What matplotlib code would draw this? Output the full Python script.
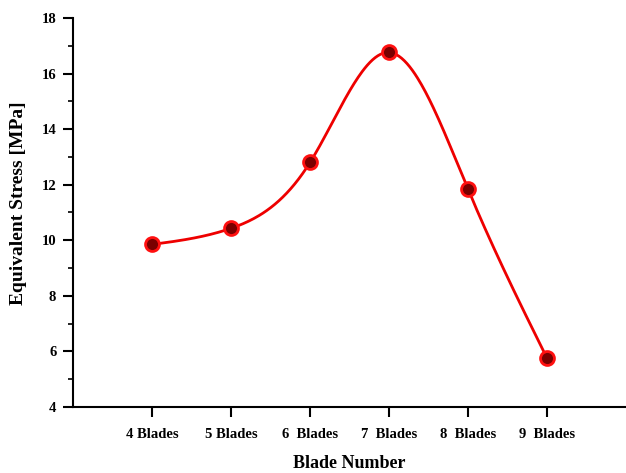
import numpy as np
import matplotlib
matplotlib.use("Agg")
import matplotlib.pyplot as plt
from matplotlib.ticker import MultipleLocator

# dữ liệu
blades = ["4 Blades", "5 Blades", "6  Blades", "7  Blades", "8  Blades", "9  Blades"]
stress = [9.85, 10.43, 12.80, 16.76, 11.84, 5.76]


def natural_spline(x, y, n=300):
    x = np.asarray(x, float)
    y = np.asarray(y, float)
    k = len(x)
    h = np.diff(x)
    A = np.zeros((k, k))
    b = np.zeros(k)
    A[0, 0] = A[-1, -1] = 1
    for i in range(1, k - 1):
        A[i, i - 1] = h[i - 1]
        A[i, i] = 2 * (h[i - 1] + h[i])
        A[i, i + 1] = h[i]
        b[i] = 3 * ((y[i + 1] - y[i]) / h[i] - (y[i] - y[i - 1]) / h[i - 1])
    c = np.linalg.solve(A, b)
    xs = np.linspace(x[0], x[-1], n)
    ys = np.empty_like(xs)
    for j, xv in enumerate(xs):
        i = min(np.searchsorted(x, xv, side="right") - 1, k - 2)
        dx = xv - x[i]
        bi = (y[i + 1] - y[i]) / h[i] - h[i] * (2 * c[i] + c[i + 1]) / 3
        di = (c[i + 1] - c[i]) / (3 * h[i])
        ys[j] = y[i] + bi * dx + c[i] * dx ** 2 + di * dx ** 3
    return xs, ys


plt.rcParams["font.family"] = ["Liberation Serif", "DejaVu Serif"]
plt.rcParams["font.weight"] = "bold"

fig = plt.figure(figsize=(6.26, 4.73), dpi=100)
ax = fig.add_axes([0.1166, 0.1395, 0.8834, 0.8225])

x = np.arange(len(blades))
xs, ys = natural_spline(x, stress)
ax.plot(xs, ys, color="#ee0000", lw=2, zorder=2)
ax.plot(x, stress, "o", ms=10, mfc="#7a0000", mec="#ff1010", mew=2, zorder=3)

ax.set_xlim(-1, 6)
ax.set_ylim(4, 18)
ax.set_xticks(x)
ax.set_xticklabels(blades)
ax.yaxis.set_major_locator(MultipleLocator(2))
ax.yaxis.set_minor_locator(MultipleLocator(1))

for s in ["top", "right"]:
    ax.spines[s].set_visible(False)
for s in ["left", "bottom"]:
    ax.spines[s].set_linewidth(1.5)

ax.tick_params(which="major", direction="out", length=7, width=1.5, labelsize=10.5, pad=5)
ax.tick_params(axis="x", which="major", pad=8)
ax.tick_params(which="minor", direction="out", length=3.6, width=1.2)
for lab in ax.get_xticklabels() + ax.get_yticklabels():
    lab.set_fontweight("bold")

ax.set_xlabel("Blade Number", fontsize=13, fontweight="bold", labelpad=10)
ax.set_ylabel("Equivalent Stress [MPa]", fontsize=14, fontweight="bold")
ax.yaxis.set_label_coords(-0.083, 0.524)

plt.savefig("out.png", dpi=100)
